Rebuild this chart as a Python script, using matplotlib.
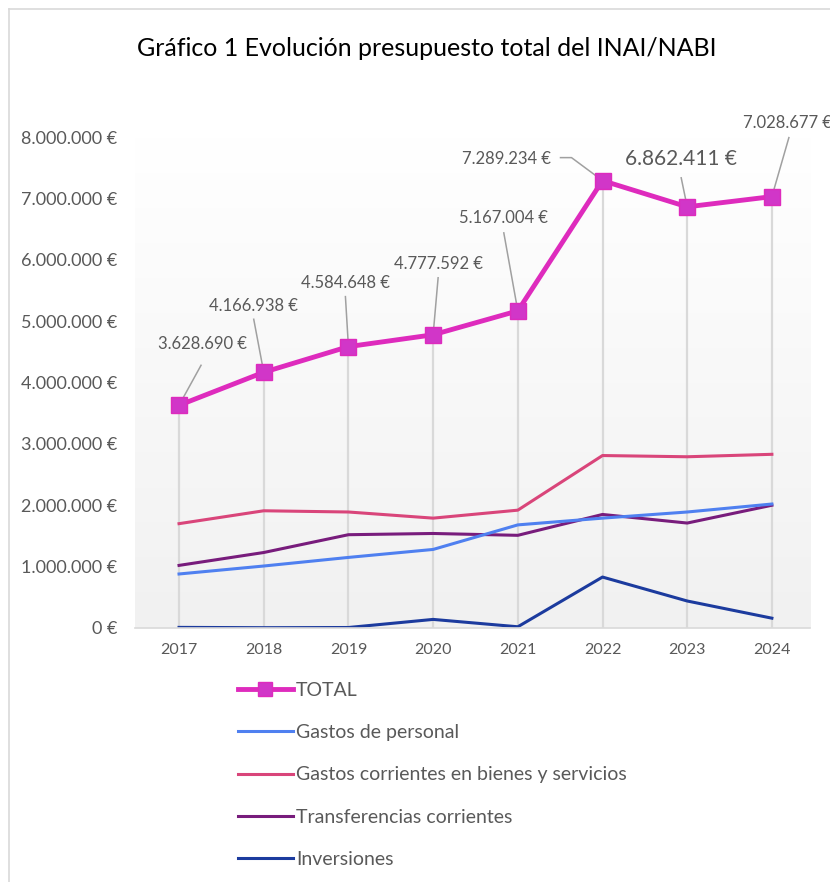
import matplotlib
matplotlib.use("Agg")
import matplotlib.pyplot as plt
import numpy as np
from matplotlib.ticker import FuncFormatter
from matplotlib.lines import Line2D

plt.rcParams['font.family'] = ['Lato', 'DejaVu Sans']

years = [2017, 2018, 2019, 2020, 2021, 2022, 2023, 2024]
total = [3628690, 4166938, 4584648, 4777592, 5167004, 7289234, 6862411, 7028677]
personal = [880000, 1010000, 1150000, 1280000, 1680000, 1790000, 1890000, 2020000]
corrientes = [1700000, 1910000, 1890000, 1790000, 1920000, 2810000, 2790000, 2830000]
transferencias = [1020000, 1230000, 1520000, 1540000, 1510000, 1850000, 1710000, 2000000]
inversiones = [10000, 5000, 8000, 140000, 20000, 830000, 440000, 160000]

labels = ["TOTAL", "Gastos de personal", "Gastos corrientes en bienes y servicios",
          "Transferencias corrientes", "Inversiones"]

# label placement (pixel offsets from the point): text centre, leader path
text_off = [(23, 61), (-10, 66), (-3, 64), (5, 71), (-14, 93), (-96, 22), (-6, 48), (16, 74)]
leader_off = [[(22, 40)], [(-10, 53)], [(-3, 50)], [(5, 57)], [(-14, 78)],
              [(-31, 23), (-42, 23)], [(-6, 29)], [(17, 59)]]
label_size = [12, 12, 12, 12, 12, 12, 15, 12]


def euro(v, pos=None):
    return f"{int(round(v)):,}".replace(",", ".") + " €"


fig = plt.figure(figsize=(8.3, 8.82), dpi=100)
ax = fig.add_axes([135 / 830, 1 - 628 / 882, 675 / 830, 491 / 882])

# gradient background of the plot area
grad = np.linspace(0, 1, 256).reshape(-1, 1)
ax.imshow(grad, extent=[0, 1, 0, 1], transform=ax.transAxes, aspect='auto',
          cmap=matplotlib.colors.LinearSegmentedColormap.from_list('g', ['#f1f1f1', '#ffffff']),
          origin='lower', zorder=0)

ax.set_xlim(2016.48, 2024.45)
ax.set_ylim(0, 8000000)

ax.vlines(years, 0, total, color='#d9d9d9', lw=1.6, zorder=1)
ax.plot(years, inversiones, color='#1c3b9e', lw=2.2, zorder=2)
ax.plot(years, transferencias, color='#781c7c', lw=2.2, zorder=2)
ax.plot(years, corrientes, color='#d9457a', lw=2.2, zorder=2)
ax.plot(years, personal, color='#4f80f0', lw=2.2, zorder=2)
ax.plot(years, total, color='#de2bbd', lw=3.5, marker='s', markersize=11,
        markerfacecolor='#d136c8', markeredgecolor='#de2bbd', zorder=4)

tr = ax.transData
inv = tr.inverted()
for x, y, t, lo, s in zip(years, total, text_off, leader_off, label_size):
    px, py = tr.transform((x, y))
    pts = [(px, py)] + [(px + dx, py + dy) for dx, dy in lo]
    dpts = inv.transform(pts)
    ax.plot(dpts[:, 0], dpts[:, 1], color='#a0a0a0', lw=1.1, zorder=3, clip_on=False)
    tx, ty = inv.transform((px + t[0], py + t[1]))
    ax.text(tx, ty, euro(y), fontsize=s, color='#595959', ha='center', va='center',
            clip_on=False, zorder=5)

ax.set_xticks(years)
ax.yaxis.set_major_formatter(FuncFormatter(euro))
ax.set_yticks(range(0, 8000001, 1000000))
ax.tick_params(axis='both', length=0, labelcolor='#595959')
ax.tick_params(axis='y', pad=13, labelsize=13)
ax.tick_params(axis='x', pad=11, labelsize=11.5)
for side in ['top', 'right', 'left']:
    ax.spines[side].set_visible(False)
ax.spines['bottom'].set_color('#d9d9d9')
ax.spines['bottom'].set_linewidth(1.2)

fig.text(0.514, 1 - 48 / 882, "Gráfico 1 Evolución presupuesto total del INAI/NABI",
         fontsize=18, ha='center', va='center', color='#000000')

# chart border
fig.add_artist(Line2D([9 / 830, 9 / 830], [0, 1 - 9 / 882], color='#d9d9d9', lw=1.2))
fig.add_artist(Line2D([9 / 830, 1], [1 - 9 / 882, 1 - 9 / 882], color='#d9d9d9', lw=1.2))

handles = [
    Line2D([], [], color='#de2bbd', lw=3.5, marker='s', markersize=10,
           markerfacecolor='#d136c8', markeredgecolor='#de2bbd'),
    Line2D([], [], color='#4f80f0', lw=2.2),
    Line2D([], [], color='#d9457a', lw=2.2),
    Line2D([], [], color='#781c7c', lw=2.2),
    Line2D([], [], color='#1c3b9e', lw=2.2),
]
fig.legend(handles, labels, loc='upper left', bbox_to_anchor=(230 / 830, 1 - 674 / 882),
           frameon=False, fontsize=14, labelcolor='#595959', handlelength=2.85,
           handletextpad=0.15, labelspacing=1.3, borderaxespad=0)

fig.savefig("out.png", dpi=100)
